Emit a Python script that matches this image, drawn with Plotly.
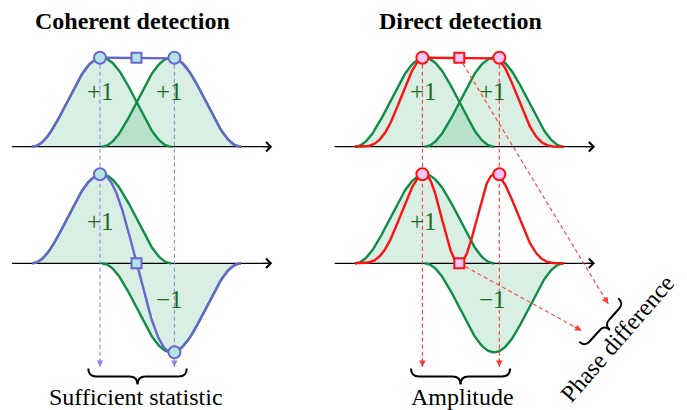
import numpy as np
import plotly.graph_objects as go

# ---------------- data ----------------
coherent_symbols_top = [1, 1]
coherent_symbols_bottom = [1, -1]
direct_symbols_top = [1, 1]
direct_symbols_bottom = [1, -1]
coherent_sample_t = [-0.025, 1.045]
direct_sample_t = [-0.03, 1.075]
panel_titles = ["Coherent detection", "Direct detection"]
brace_labels = ["Sufficient statistic", "Amplitude", "Phase difference"]
labels_top = ["+1", "+1"]
labels_bottom = ["+1", "\u22121"]

# ---------------- layout geometry (pixel <-> data) ----------------
W, H = 687, 410
PX_T, PX0 = 69.6, 101.7
PX_A, PY0 = 89.0, 263.3


def X(px):
    return (px - PX0) / PX_T


def Y(py):
    return (PY0 - py) / PX_A


TOP_BASE = Y(146.7)
BOT_BASE = 0.0
RIGHT_OFF = X(424.5)
Y_ARROW_END = Y(367)

GREEN = "#0f8c45"
FILL = "rgba(0,150,70,0.15)"
BLUE = "#6767cf"
BLUE_FILL = "#b3e3e3"
BLUE_DASH = "#8a8aec"
RED = "#ff1111"
RED_FILL = "#fbc6f7"
RED_DASH = "#ff3b3b"
TEXT_GREEN = "#1f6b1f"
FONT = "Liberation Serif, Times New Roman, serif"


def pulse(t):
    t = np.asarray(t, dtype=float)
    return np.where(np.abs(t) < 1, np.cos(np.pi * t / 2) ** 2, 0.0)


def waveform(t, symbols):
    return sum(s * pulse(t - k) for k, s in enumerate(symbols))


fig = go.Figure()
ann = []


def add_head(xt, yt, xf, yf, color, head=2, size=1.0, width=1.3):
    dx, dy = (xt - xf) * PX_T, (yt - yf) * PX_A
    n = np.hypot(dx, dy)
    ux, uy = dx / n, dy / n
    back = 10.0
    ann.append(dict(x=xt, y=yt, ax=xt - ux * back / PX_T, ay=yt - uy * back / PX_A,
                    xref="x", yref="y", axref="x", ayref="y", text="",
                    showarrow=True, arrowhead=head, arrowsize=size,
                    arrowwidth=width, arrowcolor=color, standoff=0))


def dashed_arrow(x0, y0, x1, y1, color):
    fig.add_trace(go.Scatter(x=[x0, x1], y=[y0, y1], mode="lines",
                             line=dict(color=color, width=1.1, dash="4px,3px"),
                             hoverinfo="skip"))
    add_head(x1, y1, x0, y0, color, width=1.1, size=1.2)


panels = [
    (0.0, coherent_symbols_top, coherent_symbols_bottom, coherent_sample_t, "coh"),
    (RIGHT_OFF, direct_symbols_top, direct_symbols_bottom, direct_sample_t, "dir"),
]

# fills and green pulses
for off, sym_top, sym_bot, st, kind in panels:
    for base, syms in [(TOP_BASE, sym_top), (BOT_BASE, sym_bot)]:
        for k, s in enumerate(syms):
            tt = np.linspace(k - 1, k + 1, 121)
            yy = base + s * pulse(tt - k)
            xs = np.concatenate([off + tt, (off + tt)[::-1]])
            ys = np.concatenate([yy, np.full_like(yy, base)])
            fig.add_trace(go.Scatter(x=xs, y=ys, fill="toself", fillcolor=FILL,
                                     mode="none", hoverinfo="skip"))
    # axis arrows
    for base in [TOP_BASE, BOT_BASE]:
        fig.add_trace(go.Scatter(x=[off - 1.29, off + 2.40], y=[base, base], mode="lines",
                                 line=dict(color="black", width=1.3), hoverinfo="skip"))
        ann.append(dict(x=off + 2.45, y=base, ax=off + 2.30, ay=base, xref="x", yref="y",
                        axref="x", ayref="y", text="", showarrow=True, arrowhead=4,
                        arrowsize=1.4, arrowwidth=1.3, arrowcolor="black", standoff=0))
    for base, syms in [(TOP_BASE, sym_top), (BOT_BASE, sym_bot)]:
        for k, s in enumerate(syms):
            tt = np.linspace(k - 1, k + 1, 121)
            fig.add_trace(go.Scatter(x=off + tt, y=base + s * pulse(tt - k), mode="lines",
                                     line=dict(color=GREEN, width=2.4), hoverinfo="skip"))

# vertical dashed sampling arrows
for off, sym_top, sym_bot, st, kind in panels:
    col = BLUE_DASH if kind == "coh" else RED_DASH
    for k, t in enumerate(st):
        dashed_arrow(off + t, TOP_BASE + 1, off + t, Y_ARROW_END, col)

# diagonal red arrows to phase brace
dashed_arrow(RIGHT_OFF + 0.5, TOP_BASE + 1, X(608.3), Y(304), RED_DASH)
dashed_arrow(RIGHT_OFF + 0.5, BOT_BASE, X(581.7), Y(330.7), RED_DASH)

# received waveforms
tt = np.linspace(-1, 2, 401)
for off, sym_top, sym_bot, st, kind in panels:
    for base, syms in [(TOP_BASE, sym_top), (BOT_BASE, sym_bot)]:
        w = waveform(tt, syms)
        if kind == "coh":
            yy, col = w, BLUE
        else:
            yy, col = w ** 2, RED
        fig.add_trace(go.Scatter(x=off + tt, y=base + yy, mode="lines",
                                 line=dict(color=col, width=2.4), hoverinfo="skip"))

# markers
for off, sym_top, sym_bot, st, kind in panels:
    col, fcol = (BLUE, BLUE_FILL) if kind == "coh" else (RED, RED_FILL)
    for base, syms in [(TOP_BASE, sym_top), (BOT_BASE, sym_bot)]:
        vals = syms if kind == "coh" else [s * s for s in syms]
        mid = 0.5
        midv = float(waveform(np.array([mid]), syms)[0])
        if kind == "dir":
            midv = midv ** 2
        fig.add_trace(go.Scatter(x=[off + mid], y=[base + midv], mode="markers",
                                 marker=dict(symbol="square", size=10, color=fcol,
                                             line=dict(color=col, width=2)),
                                 hoverinfo="skip"))
        fig.add_trace(go.Scatter(x=[off + t for t in st], y=[base + v for v in vals],
                                 mode="markers",
                                 marker=dict(symbol="circle", size=12, color=fcol,
                                             line=dict(color=col, width=2)),
                                 hoverinfo="skip"))

# symbol labels
for off, sym_top, sym_bot, st, kind in panels:
    for k, lab in enumerate(labels_top):
        ann.append(dict(x=off + k - 0.02, y=TOP_BASE + 0.615, text=lab, showarrow=False,
                        font=dict(family=FONT, size=25, color=TEXT_GREEN)))
    for k, lab in enumerate(labels_bottom):
        dy = 0.475 if sym_bot[k] > 0 else -0.41
        ann.append(dict(x=off + k - 0.02, y=BOT_BASE + dy, text=lab, showarrow=False,
                        font=dict(family=FONT, size=25, color=TEXT_GREEN)))

# titles
ann.append(dict(x=X(132.3), y=Y(21), text="<b>%s</b>" % panel_titles[0], showarrow=False,
                font=dict(family=FONT, size=24, color="black")))
ann.append(dict(x=X(460), y=Y(21), text="<b>%s</b>" % panel_titles[1], showarrow=False,
                font=dict(family=FONT, size=24, color="black")))


# braces
def brace_path(p1, p2, h, q):
    p1, p2 = np.array(p1, float), np.array(p2, float)
    d = p2 - p1
    L = np.hypot(*d)
    d = d / L
    n = np.array([-d[1], d[0]])

    def P(u, v):
        pt = p1 + u * d + v * n
        return "%.4f,%.4f" % (X(pt[0]), Y(pt[1]))

    return ("M" + P(0, 0) + " Q" + P(0, h / 2) + " " + P(q, h / 2) +
            " L" + P(L / 2 - q, h / 2) + " Q" + P(L / 2, h / 2) + " " + P(L / 2, h) +
            " Q" + P(L / 2, h / 2) + " " + P(L / 2 + q, h / 2) +
            " L" + P(L - q, h / 2) + " Q" + P(L, h / 2) + " " + P(L, 0))


shapes = []
for p1, p2, h, q in [((88.3, 368.5), (186.7, 368.5), 16, 8),
                     ((411, 368.5), (510, 368.5), 16, 8),
                     ((579.3, 341.7), (618.3, 298.3), 15, 7)]:
    shapes.append(dict(type="path", path=brace_path(p1, p2, h, q), xref="x", yref="y",
                       line=dict(color="black", width=2)))

ann.append(dict(x=X(135.8), y=Y(397), text=brace_labels[0], showarrow=False,
                font=dict(family=FONT, size=24, color="black")))
ann.append(dict(x=X(462.5), y=Y(397), text=brace_labels[1], showarrow=False,
                font=dict(family=FONT, size=24, color="black")))
ann.append(dict(x=X(617), y=Y(339), text=brace_labels[2], showarrow=False, textangle=-49,
                font=dict(family=FONT, size=24, color="black")))

fig.update_layout(
    width=W, height=H, margin=dict(l=0, r=0, t=0, b=0),
    paper_bgcolor="white", plot_bgcolor="white", showlegend=False,
    xaxis=dict(range=[X(0), X(W)], visible=False, fixedrange=True),
    yaxis=dict(range=[Y(H), Y(0)], visible=False, fixedrange=True),
    annotations=ann, shapes=shapes,
)
fig.write_html("out.html", config={"displayModeBar": False},
               post_script="document.body.style.margin='0';document.body.style.overflow='hidden';")
